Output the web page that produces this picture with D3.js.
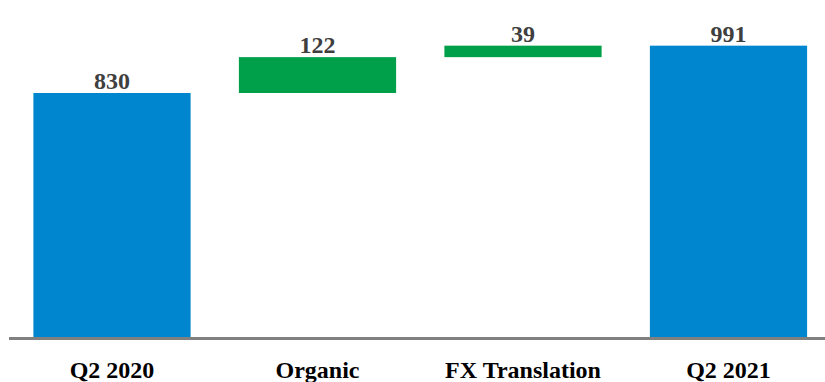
<!DOCTYPE html>
<html>
<head>
<meta charset="utf-8">
<script src="https://cdn.jsdelivr.net/npm/d3@7"></script>
<style>
html,body{margin:0;padding:0;background:#fff;}
svg{display:block;}
</style>
</head>
<body>
<svg id="chart" width="825" height="382"></svg>
<script>
const categories = ["Q2 2020", "Organic", "FX Translation", "Q2 2021"];
const values = [830, 122, 39, 991];
const kinds = ["total", "delta", "delta", "total"];

const W = 825, H = 382;
const svg = d3.select("#chart");

// compute waterfall ranges
let running = 0;
const bars = categories.map((c, i) => {
  let y0, y1;
  if (kinds[i] === "total") { y0 = 0; y1 = values[i]; running = values[i]; }
  else { y0 = running; y1 = running + values[i]; running = y1; }
  return {cat: c, value: values[i], kind: kinds[i], y0, y1};
});

const x = d3.scaleBand().domain(categories).range([9.25, 831.25])
  .paddingInner(0.235).paddingOuter(0.1175);
const y = d3.scaleLinear().domain([0, 830]).range([337, 93]);

const colors = {total: "#0085cf", delta: "#00a04a"};

svg.selectAll("rect.bar").data(bars).enter().append("rect")
  .attr("class", "bar")
  .attr("x", d => x(d.cat))
  .attr("width", x.bandwidth())
  .attr("y", d => y(Math.max(d.y0, d.y1)))
  .attr("height", d => Math.abs(y(d.y0) - y(d.y1)))
  .attr("fill", d => colors[d.kind]);

// baseline
svg.append("line")
  .attr("x1", 9).attr("x2", 825)
  .attr("y1", y(0) + 1.5).attr("y2", y(0) + 1.5)
  .attr("stroke", "#808080").attr("stroke-width", 3);

// value labels
svg.selectAll("text.val").data(bars).enter().append("text")
  .attr("class", "val")
  .attr("x", d => x(d.cat) + x.bandwidth() / 2)
  .attr("y", d => y(Math.max(d.y0, d.y1)) - 4)
  .attr("text-anchor", "middle")
  .attr("font-family", "'Liberation Serif','Times New Roman',serif")
  .attr("font-weight", "bold")
  .attr("font-size", 24)
  .attr("fill", "#3f3f3f")
  .text(d => d.value);

// category axis
const axis = d3.axisBottom(x).tickSize(0).tickPadding(0);
const g = svg.append("g").call(axis);
g.select(".domain").remove();
g.selectAll(".tick text")
  .attr("y", 378).attr("dy", null)
  .attr("font-family", "'Liberation Serif','Times New Roman',serif")
  .attr("font-weight", "bold")
  .attr("font-size", 24)
  .attr("fill", "#000");
</script>
</body>
</html>
